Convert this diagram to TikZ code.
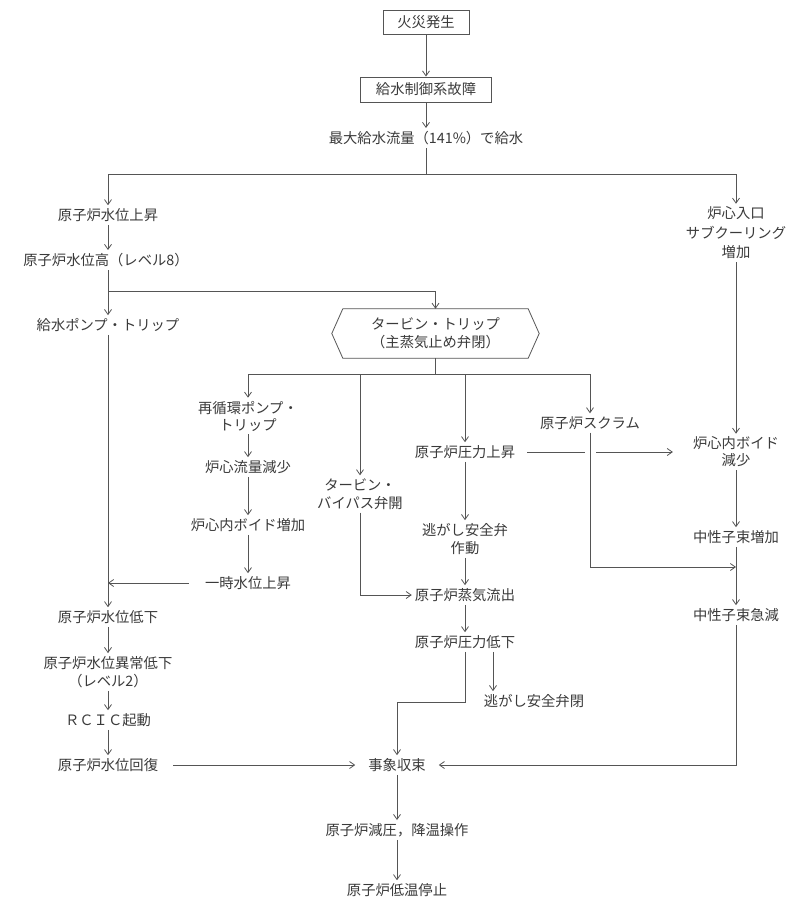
\documentclass[tikz,border=0pt]{standalone}
\usepackage{fontspec}
\newfontfamily\jp{Noto Sans CJK JP}
\usetikzlibrary{arrows.meta,calc}
\definecolor{lncol}{HTML}{555555}
\definecolor{txcol}{HTML}{3a3a3a}
\begin{document}
\begin{tikzpicture}[x=1pt,y=-1pt,
 t/.style={font=\jp\fontsize{14.3}{18}\selectfont, text=txcol, align=center, inner xsep=3pt, inner ysep=3pt},
 bx/.style={t, draw=lncol, line width=0.9pt},
 cn/.style={draw=lncol, line width=0.8pt},
 ar/.style={cn, -{Straight Barb[length=5pt,width=7pt]}}]
\useasboundingbox[fill=white] (0,0) rectangle (789,903);
% nodes
\node[bx, minimum width=86pt, minimum height=24pt] (fire) at (426,22) {火災発生};
\node[bx, minimum width=131pt, minimum height=25pt] (ctrl) at (426,89.5) {給水制御系故障};
\node[t] (maxf) at (426,138) {最大給水流量（141\%）で給水};
\node[t] (rise) at (108,215) {原子炉水位上昇};
\node[t] (high) at (106,260) {原子炉水位高（レベル8）};
\node[t] (pump) at (108,325) {給水ポンプ・トリップ};
\node[t, font=\jp\fontsize{14.3}{19.5}\selectfont] (subc) at (736,233) {炉心入口\\サブクーリング\\増加};
\node[t, minimum width=207pt, minimum height=49pt] (hex) at (435.5,333.5) {タービン・トリップ\\（主蒸気止め弁閉）};
\draw[cn] (hex.west) -- ([xshift=11pt]hex.north west) -- ([xshift=-11pt]hex.north east) -- (hex.east) -- ([xshift=-11pt]hex.south east) -- ([xshift=11pt]hex.south west) -- cycle;
\node[t, font=\jp\fontsize{14.3}{17}\selectfont] (recirc) at (248,416) {再循環ポンプ・\\トリップ};
\node[t] (cflow) at (248,467) {炉心流量減少};
\node[t] (voidp) at (248,525) {炉心内ボイド増加};
\node[t] (temp) at (248,583) {一時水位上昇};
\node[t] (byp) at (360,494) {タービン・\\バイパス弁開};
\node[t] (prise) at (465,452) {原子炉圧力上昇};
\node[t] (srv) at (465,539) {逃がし安全弁\\作動};
\node[t] (steam) at (465,595) {原子炉蒸気流出};
\node[t] (pdrop) at (465,642) {原子炉圧力低下};
\node[t] (srvc) at (534,701) {逃がし安全弁閉};
\node[t] (scram) at (590,423) {原子炉スクラム};
\node[t, font=\jp\fontsize{14.3}{17}\selectfont] (voidm) at (736,452) {炉心内ボイド\\減少};
\node[t] (nup) at (736,537) {中性子束増加};
\node[t] (ndown) at (736,615) {中性子束急減};
\node[t] (low) at (108,617) {原子炉水位低下};
\node[t] (ablow) at (108,672) {原子炉水位異常低下\\（レベル2）};
\node[t] (rcic) at (108,720) {ＲＣＩＣ起動};
\node[t] (recov) at (108,765) {原子炉水位回復};
\node[t] (fin) at (397,765) {事象収束};
\node[t] (depr) at (397,830) {原子炉減圧，降温操作};
\node[t] (cold) at (397,890) {原子炉低温停止};
% coordinates
\coordinate (sp1) at (426,174);
\coordinate (sp2) at (108,291);
\coordinate (sp3) at (435.5,374);
\coordinate (c1) at (465,702);
\coordinate (c2) at (493,0);
\coordinate (c3) at (736,567);
% connectors
\draw[ar] (fire) -- (ctrl);
\draw[ar] (ctrl) -- (maxf);
\draw[cn] (maxf) -- (sp1);
\draw[ar] (sp1) -| (rise.north);
\draw[ar] (sp1) -| (subc.north);
\draw[ar] (rise) -- (rise |- high.north);
\draw[cn] (rise |- high.south) -- (sp2);
\draw[ar] (sp2) -- (pump);
\draw[ar] (sp2) -| (hex.north);
\draw[ar] (pump) -- (low);
\draw[cn] (hex.south) -- (sp3);
\draw[ar] (sp3) -| (recirc.north);
\draw[ar] (sp3) -| (scram.north);
\draw[ar] (byp.north |- sp3) -- (byp.north);
\draw[ar] (prise.north |- sp3) -- (prise.north);
\draw[ar] (recirc) -- (cflow);
\draw[ar] (cflow) -- (voidp);
\draw[ar] (voidp) -- (temp);
\draw[ar, shorten <=13pt] (temp.west) -- (temp.west -| pump.south);
\draw[ar] (byp.south) |- (steam.west);
\draw[ar] (prise) -- (srv);
\draw[ar] (srv) -- (steam);
\draw[ar] (steam) -- (pdrop);
\draw[ar] (pdrop.south) -- (c1) -| (fin.north);
\draw[ar] (pdrop.south -| c2) -- (srvc.north -| c2);
\draw[cn, shorten <=9pt] (prise.east) -- ([xshift=-5pt]prise.east -| scram.south);
\draw[ar, shorten >=17pt] ([xshift=6pt]prise.east -| scram.south) -- (prise.east -| voidm.west);
\draw[ar] (scram.south) |- (c3);
\draw[ar] (subc) -- (voidm);
\draw[ar] (voidm) -- (nup);
\draw[ar] (nup) -- (ndown);
\draw[ar, shorten >=10pt] (ndown.south) |- (fin.east);
\draw[ar] (low) -- (ablow);
\draw[ar] (ablow) -- (rcic);
\draw[ar] (rcic) -- (recov);
\draw[ar, shorten <=12pt, shorten >=10pt] (recov) -- (fin);
\draw[ar] (fin) -- (depr);
\draw[ar] (depr) -- (cold);
\end{tikzpicture}
\end{document}
